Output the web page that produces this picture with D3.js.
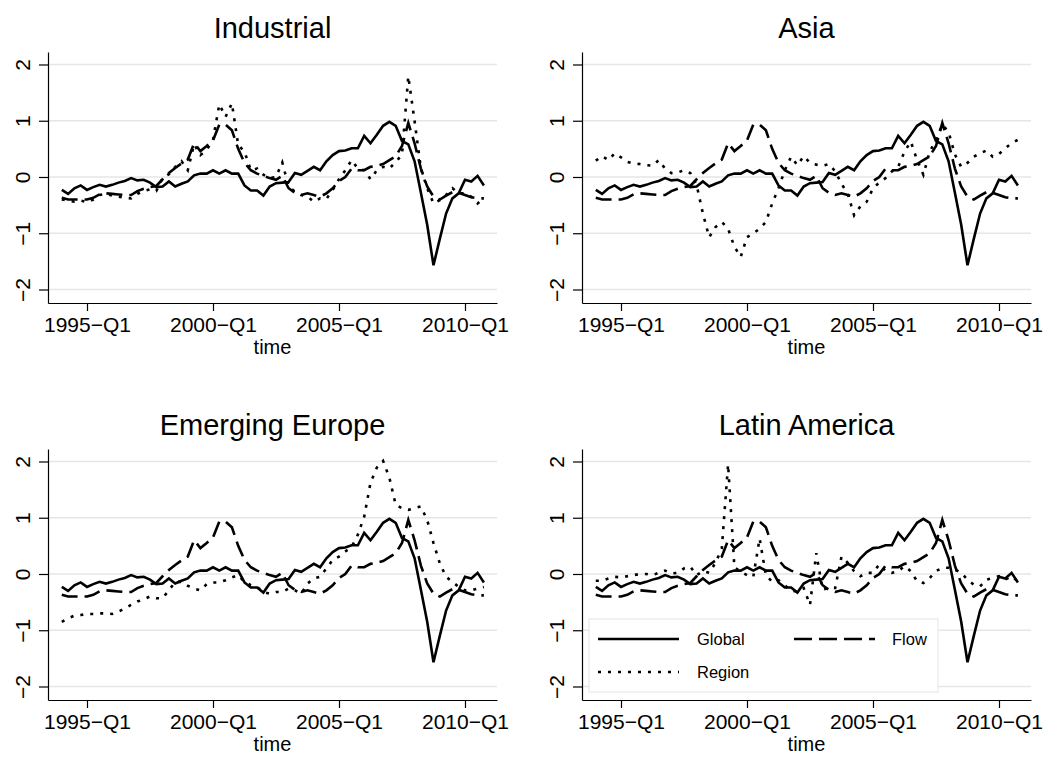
<!DOCTYPE html>
<html>
<head>
<meta charset="utf-8">
<script src="https://cdn.jsdelivr.net/npm/d3@7"></script>
<style>
  body { margin: 0; background: #fff; }
  svg { display: block; font-family: "Liberation Sans", Arial, sans-serif; }
  .grid line { stroke: #e6e6e6; stroke-width: 1.6; }
  .axis path, .axis line { stroke: #000; stroke-width: 1.2; }
  .axis text { font-size: 21px; fill: #000; }
  .series { fill: none; stroke: #000; stroke-width: 2.6; }
</style>
</head>
<body>
<div id="chart"></div>
<script>
// quarters run from 1994-Q1 (index 0) to 2010-Q4 (index 67)
const tickQuarters = [4, 24, 44, 64];
const tickLabels = ["1995\u2212Q1", "2000\u2212Q1", "2005\u2212Q1", "2010\u2212Q1"];
const yTicks = [-2, -1, 0, 1, 2];
const titles = ["Industrial", "Asia", "Emerging Europe", "Latin America"];
const seriesNames = ["Global", "Flow", "Region"];

const global = [
  -0.23, -0.30, -0.20, -0.15, -0.23, -0.18, -0.14, -0.17, -0.14, -0.10,
  -0.07, -0.02, -0.06, -0.05, -0.10, -0.18, -0.17, -0.08, -0.17, -0.12,
  -0.08, 0.03, 0.06, 0.06, 0.12, 0.06, 0.12, 0.06, 0.06, -0.15,
  -0.24, -0.24, -0.33, -0.17, -0.11, -0.10, -0.09, 0.07, 0.04, 0.11,
  0.18, 0.12, 0.28, 0.39, 0.46, 0.47, 0.51, 0.51, 0.73, 0.60,
  0.75, 0.91, 0.98, 0.91, 0.64, 0.58, 0.28, -0.28, -0.85, -1.57,
  -1.10, -0.65, -0.38, -0.29, -0.05, -0.08, 0.02, -0.15
];

const flow = [
  -0.37, -0.40, -0.40, -0.40, -0.40, -0.37, -0.31, -0.29, -0.30, -0.31,
  -0.32, -0.32, -0.25, -0.21, -0.18, -0.16, -0.04, 0.07, 0.16, 0.24,
  0.31, 0.60, 0.46, 0.55, 0.65, 0.93, 0.93, 0.83, 0.50, 0.25,
  0.12, 0.06, 0.02, -0.02, -0.05, 0.02, -0.20, -0.28, -0.32, -0.29,
  -0.32, -0.35, -0.29, -0.20, -0.07, 0.00, 0.15, 0.12, 0.12, 0.18,
  0.20, 0.23, 0.30, 0.37, 0.55, 0.96, 0.60, 0.15, -0.17, -0.35,
  -0.40, -0.33, -0.27, -0.28, -0.32, -0.36, -0.38, -0.38
];

const regionIndustrial = [
  -0.40, -0.42, -0.44, -0.42, -0.45, -0.40, -0.32, -0.30, -0.33, -0.35,
  -0.37, -0.38, -0.30, -0.25, -0.22, -0.25, -0.02, 0.05, 0.18, 0.28,
  0.12, 0.58, 0.39, 0.48, 0.66, 1.29, 1.07, 1.31, 0.57, 0.45,
  0.12, 0.15, 0.04, -0.02, 0.00, 0.26, -0.17, -0.26, -0.32, -0.35,
  -0.44, -0.38, -0.39, -0.23, -0.04, 0.12, 0.30, 0.15, 0.12, -0.04,
  0.12, 0.18, 0.15, 0.27, 0.39, 1.79, 0.99, 0.15, -0.20, -0.47,
  -0.41, -0.32, -0.20, -0.29, -0.29, -0.35, -0.47, -0.38
];

const regionAsia = [
  0.29, 0.37, 0.30, 0.42, 0.35, 0.27, 0.24, 0.23, 0.21, 0.20,
  0.30, 0.15, 0.07, 0.08, 0.12, 0.07, -0.14, -0.65, -1.07, -0.89,
  -0.80, -0.92, -1.24, -1.42, -1.07, -1.00, -0.92, -0.80, -0.47, -0.20,
  0.12, 0.36, 0.21, 0.37, 0.25, 0.22, 0.20, 0.23, 0.10, -0.12,
  -0.30, -0.68, -0.52, -0.44, -0.20, -0.10, -0.02, 0.10, 0.18, 0.45,
  0.63, 0.30, 0.04, 0.45, 0.66, 0.93, 0.80, 0.40, 0.18, 0.25,
  0.36, 0.42, 0.47, 0.36, 0.41, 0.51, 0.60, 0.66
];

const regionEurope = [
  -0.85, -0.79, -0.74, -0.73, -0.71, -0.71, -0.70, -0.70, -0.71, -0.67,
  -0.61, -0.55, -0.49, -0.45, -0.40, -0.43, -0.43, -0.29, -0.14, -0.14,
  -0.21, -0.26, -0.29, -0.18, -0.15, -0.15, -0.11, -0.06, -0.02, -0.14,
  -0.20, -0.23, -0.32, -0.35, -0.32, -0.32, -0.26, -0.29, -0.35, -0.17,
  -0.08, -0.05, 0.10, 0.25, 0.31, 0.40, 0.48, 0.70, 1.02, 1.62,
  1.89, 2.01, 1.71, 1.23, 1.17, 1.14, 1.17, 1.20, 0.96, 0.55,
  0.19, -0.05, -0.14, -0.23, -0.29, -0.29, -0.26, -0.23
];

const regionLatam = [
  -0.12, -0.12, -0.08, -0.05, -0.06, -0.04, -0.02, 0.00, 0.00, -0.02,
  0.02, 0.06, 0.01, 0.02, 0.10, 0.13, -0.02, 0.05, 0.02, 0.20,
  0.45, 1.95, 0.12, 0.04, -0.02, -0.05, 0.63, -0.02, -0.14, -0.11,
  -0.20, -0.30, -0.31, -0.25, -0.55, 0.37, -0.28, -0.25, -0.25, 0.31,
  0.20, 0.05, -0.04, 0.02, 0.02, 0.17, 0.05, 0.02, 0.05, 0.14,
  0.05, -0.13, -0.16, -0.07, 0.05, 0.11, 0.11, 0.08, 0.02, -0.10,
  -0.19, -0.22, -0.10, -0.07, -0.04, -0.10, -0.04, -0.13
];

const regions = [regionIndustrial, regionAsia, regionEurope, regionLatam];

function init() {
    const w = 1048;
    const h = 758;

    // one panel's plot box, the others are shifted copies
    const plotLeft = 48, plotRight = 497, plotTop = 52, plotBottom = 303;
    const colStep = 534, rowStep = 397;

    const dashes = { Global: null, Flow: "16,7", Region: "3,7" };

    var svg = d3.select("#chart").append("svg").attr("width", w).attr("height", h);

    titles.forEach((title, p) => {
        const dx = (p % 2) * colStep;
        const dy = Math.floor(p / 2) * rowStep;

        var xScale = d3.scaleLinear()
            .domain([-2.19, 69.08])
            .range([plotLeft + dx, plotRight + dx]);

        var yScale = d3.scaleLinear()
            .domain([-2.24, 2.222])
            .range([plotBottom + dy, plotTop + dy]);

        var g = svg.append("g");

        // Gridlines
        g.append("g")
            .attr("class", "grid")
            .selectAll("line")
            .data(yTicks)
            .join("line")
            .attr("x1", xScale.range()[0])
            .attr("x2", xScale.range()[1])
            .attr("y1", (d) => yScale(d))
            .attr("y2", (d) => yScale(d));

        // Series
        var line = d3.line()
            .x((d, i) => xScale(i))
            .y((d) => yScale(d));

        const values = [global, flow, regions[p]];
        seriesNames.forEach((name, k) => {
            g.append("path")
                .datum(values[k])
                .attr("class", "series")
                .attr("stroke-dasharray", dashes[name])
                .attr("d", line);
        });

        // Axes
        var xAxis = d3.axisBottom(xScale)
            .tickValues(tickQuarters)
            .tickFormat((d, i) => tickLabels[i])
            .tickSize(8)
            .tickSizeOuter(0);

        var yAxis = d3.axisLeft(yScale)
            .tickValues(yTicks)
            .tickFormat(d3.format("d"))
            .tickSize(9)
            .tickSizeOuter(0);

        g.append("g")
            .attr("class", "axis")
            .attr("transform", "translate(0," + (plotBottom + dy) + ")")
            .call(xAxis)
            .call((a) => a.selectAll("text").attr("y", 29).attr("dy", null).attr("font-family", null));

        g.append("g")
            .attr("class", "axis")
            .attr("transform", "translate(" + (plotLeft + dx) + ",0)")
            .call(yAxis)
            .call((a) => a.selectAll("text")
                .attr("x", null).attr("dy", null)
                .attr("text-anchor", "middle")
                .attr("transform", "translate(-18,0) rotate(-90)")
                .attr("font-family", null));

        g.selectAll(".axis").attr("font-family", null).attr("font-size", null);

        // Axis title
        g.append("text")
            .attr("x", (xScale.range()[0] + xScale.range()[1]) / 2)
            .attr("y", plotBottom + dy + 51)
            .attr("text-anchor", "middle")
            .attr("font-size", 20)
            .text("time");

        // Panel title
        g.append("text")
            .attr("x", (xScale.range()[0] + xScale.range()[1]) / 2)
            .attr("y", plotTop + dy - 14)
            .attr("text-anchor", "middle")
            .attr("font-size", 29)
            .text(title);

        // Legend lives in the last panel
        if (p === 3) {
            const lx = plotLeft + dx + 7, ly = plotTop + dy + 170;
            var leg = g.append("g").attr("transform", "translate(" + lx + "," + ly + ")");
            leg.append("rect")
                .attr("width", 349).attr("height", 73)
                .attr("fill", "#fff").attr("stroke", "#e4e4e4").attr("stroke-width", 1);
            const slots = [[9, 20], [205, 20], [9, 53]];
            seriesNames.forEach((name, k) => {
                const [sx, sy] = slots[k];
                leg.append("line")
                    .attr("class", "series")
                    .attr("x1", sx).attr("x2", sx + 81)
                    .attr("y1", sy).attr("y2", sy)
                    .attr("stroke-dasharray", name === "Flow" ? "18,7" : dashes[name]);
                leg.append("text")
                    .attr("x", name === "Flow" ? sx + 98 : sx + 99)
                    .attr("y", sy + 6)
                    .attr("font-size", 16.5)
                    .text(name);
            });
        }
    });
}

window.onload = init();
</script>
</body>
</html>
